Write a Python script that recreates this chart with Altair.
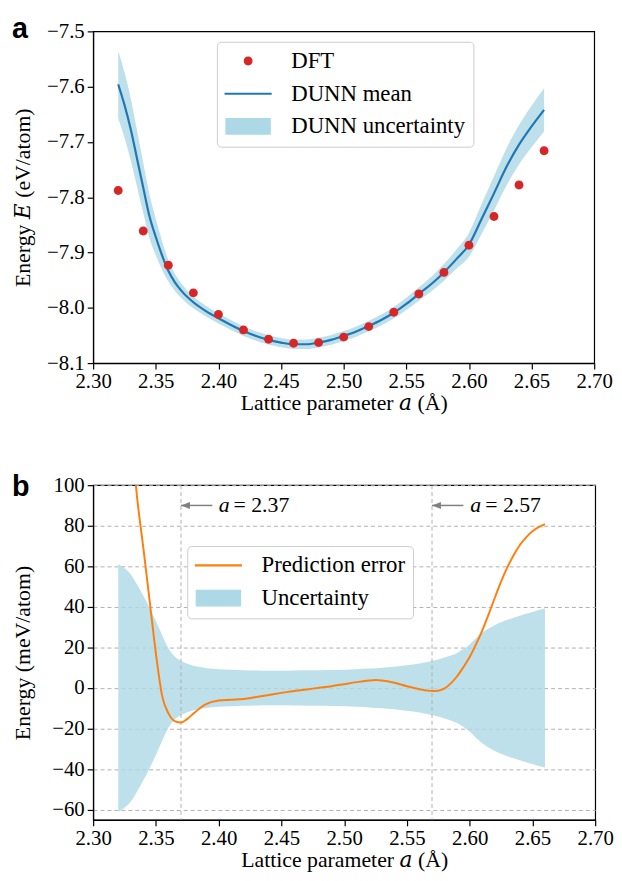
import altair as alt
import pandas as pd

# ---------------- data ----------------
a_dft = [2.32, 2.34, 2.36, 2.38, 2.40, 2.42, 2.44, 2.46, 2.48, 2.50,
         2.52, 2.54, 2.56, 2.58, 2.60, 2.62, 2.64, 2.66]
E_dft = [-7.788, -7.861, -7.923, -7.973, -8.012, -8.040, -8.057, -8.064, -8.063, -8.053,
         -8.034, -8.008, -7.975, -7.936, -7.887, -7.835, -7.778, -7.716]

a_mean = [2.320, 2.325, 2.330, 2.335, 2.340, 2.345, 2.350, 2.355, 2.360, 2.365,
          2.370, 2.380, 2.390, 2.400, 2.410, 2.420, 2.430, 2.440, 2.450, 2.460,
          2.470, 2.480, 2.490, 2.500, 2.510, 2.520, 2.530, 2.540, 2.550, 2.560,
          2.570, 2.580, 2.590, 2.600, 2.610, 2.620, 2.630, 2.640, 2.650, 2.660]
E_mean = [-7.596, -7.633, -7.677, -7.730, -7.783, -7.835, -7.872, -7.905, -7.933, -7.953,
          -7.968, -7.990, -8.006, -8.019, -8.031, -8.042, -8.051, -8.058, -8.063, -8.066,
          -8.066, -8.063, -8.058, -8.051, -8.043, -8.033, -8.022, -8.009, -7.993, -7.975,
          -7.957, -7.936, -7.912, -7.886, -7.840, -7.793, -7.745, -7.705, -7.672, -7.642]
sd_mean = [0.0610, 0.0590, 0.0560, 0.0510, 0.0455, 0.0395, 0.0330, 0.0260, 0.0195, 0.0155,
           0.0133, 0.0110, 0.0098, 0.0093, 0.0090, 0.0088, 0.0086, 0.0085, 0.0085, 0.0086,
           0.0087, 0.0088, 0.0089, 0.0090, 0.0093, 0.0096, 0.0100, 0.0105, 0.0112, 0.0121,
           0.0133, 0.0150, 0.0173, 0.0215, 0.0272, 0.0310, 0.0336, 0.0356, 0.0375, 0.0392]

a_err = [2.320, 2.325, 2.330, 2.335, 2.340, 2.345, 2.350, 2.355, 2.360, 2.365,
         2.370, 2.375, 2.380, 2.385, 2.390, 2.400, 2.410, 2.420, 2.430, 2.440,
         2.450, 2.460, 2.470, 2.480, 2.490, 2.500, 2.510, 2.520, 2.525, 2.530,
         2.540, 2.550, 2.560, 2.570, 2.575, 2.580, 2.585, 2.590, 2.595, 2.600,
         2.605, 2.610, 2.615, 2.620, 2.625, 2.630, 2.635, 2.640, 2.645, 2.650,
         2.655, 2.660]
err = [185, 160, 128, 94, 69, 43, 17, -4, -12.5, -16.3,
       -17.0, -15.2, -12.6, -10.0, -8.0, -6.2, -5.8, -5.4, -4.4, -3.4,
       -2.4, -1.5, -0.7, 0.1, 0.9, 1.9, 2.9, 3.7, 3.9, 3.7,
       2.6, 0.9, -0.6, -1.5, -1.3, -0.2, 2.3, 5.8, 10.3, 15.3,
       21.5, 28.3, 36.2, 44.5, 52.5, 59.5, 65.5, 70.5, 74.3, 77.3,
       79.3, 80.8]
unc = [61, 59, 56, 51, 45.5, 39.5, 33, 26, 19.5, 15.5,
       13.3, 12.0, 11.0, 10.3, 9.8, 9.3, 9.0, 8.8, 8.6, 8.5,
       8.5, 8.6, 8.7, 8.8, 8.9, 9.0, 9.3, 9.6, 9.8, 10.0,
       10.5, 11.2, 12.1, 13.3, 14.0, 15.0, 16.0, 17.3, 19.2, 21.5,
       24.5, 27.2, 29.3, 31.0, 32.4, 33.6, 34.6, 35.6, 36.6, 37.5,
       38.4, 39.2]

x_ticks = [2.30, 2.35, 2.40, 2.45, 2.50, 2.55, 2.60, 2.65, 2.70]
top_yticks = [-8.1, -8.0, -7.9, -7.8, -7.7, -7.6, -7.5]
bot_yticks = [-60, -40, -20, 0, 20, 40, 60, 80, 100]

top_series = ["DFT", "DUNN mean", "DUNN uncertainty"]
bot_series = ["Prediction error", "Uncertainty"]

vline_a = [2.37, 2.57]
arrow_end = [2.395, 2.595]
label_a = [2.400, 2.6005]
label_txt = ["= 2.37", "= 2.57"]
arrow_v = [90, 90]

# ---------------- styles ----------------
SERIF = "Liberation Serif, DejaVu Serif"
RED, BLUE, LBLUE, ORANGE, GRID = "#d62728", "#1f77b4", "#add8e6", "#ff7f0e", "#b0b0b0"
BAND_OPACITY = 0.8

U = 8.5  # legend unit (sqrt(size)/2)
SYM_SIZE = (2 * U) ** 2
circ = "M0.53,0A0.53,0.53,0,1,1,-0.53,0A0.53,0.53,0,1,1,0.53,0Z"
linep = "M-2.8,-0.13H2.8V0.13H-2.8Z"
rectp = "M-2.7,-1H2.7V1H-2.7Z"
arrow_head = "M0,0L3,-1.2L3,1.2Z"

# ---------------- frames ----------------
df_dft = pd.DataFrame({"a": a_dft, "E": E_dft, "series": "DFT"})
df_mean = pd.DataFrame({"a": a_mean, "E": E_mean, "sd": sd_mean})
df_err = pd.DataFrame({"a": a_err, "err": err, "unc": unc, "series": "Prediction error"})
df_vl = pd.DataFrame({"a": vline_a, "a2": arrow_end, "at": label_a, "v": arrow_v, "txt": label_txt})


def x_enc():
    return alt.X("a:Q", scale=alt.Scale(domain=[2.30, 2.70], nice=False, zero=False),
                 axis=alt.Axis(values=x_ticks, format=".2f", title="Lattice parameter 𝑎 (Å)"))


y_top_scale = alt.Scale(domain=[-8.1, -7.5], nice=False, zero=False)
y_bot_scale = alt.Scale(domain=[-65, 100], nice=False, zero=False)


def make_legend(x, y):
    return alt.Legend(title=None, orient="none", legendX=x, legendY=y, padding=8,
                      rowPadding=9, symbolSize=SYM_SIZE, symbolOffset=12, labelOffset=32,
                      labelFont=SERIF, labelFontSize=23, labelColor="black", labelLimit=0,
                      strokeColor="#cccccc", fillColor="white", cornerRadius=4,
                      symbolStrokeWidth=0, symbolOpacity=1)


leg_top = make_legend(125, 10.5)
leg_bot = make_legend(95, 61.5)

# ---------------- top panel ----------------
band = alt.Chart(df_mean).transform_calculate(
    lo="datum.E - datum.sd", hi="datum.E + datum.sd"
).mark_area(color=LBLUE, opacity=BAND_OPACITY, interpolate="monotone").encode(
    x=x_enc(), y=alt.Y("lo:Q", scale=y_top_scale,
                       axis=alt.Axis(values=top_yticks, format=".1f", title="Energy 𝐸 (eV/atom)",
                                     titlePadding=12)),
    y2="hi:Q")
mean_line = alt.Chart(df_mean).mark_line(color=BLUE, strokeWidth=2.2, interpolate="monotone").encode(
    x="a:Q", y="E:Q")
pts = alt.Chart(df_dft).mark_point(filled=True, opacity=1, size=SYM_SIZE, strokeWidth=0).encode(
    x="a:Q", y="E:Q",
    color=alt.Color("series:N", scale=alt.Scale(domain=top_series, range=[RED, BLUE, LBLUE]),
                    legend=leg_top),
    shape=alt.Shape("series:N", scale=alt.Scale(domain=top_series, range=[circ, linep, rectp]),
                    legend=leg_top))

top = alt.layer(band, mean_line, pts).properties(
    width=506, height=335,
    title=alt.TitleParams("a", anchor="start", frame="group", font="Liberation Sans", fontSize=29,
                          fontWeight="bold", color="black", dx=-82, dy=46.6, offset=0,
                          baseline="alphabetic"))

# ---------------- bottom panel ----------------
ubar = alt.Chart(df_err).transform_calculate(
    lo="-datum.unc", hi="datum.unc"
).mark_area(color=LBLUE, opacity=BAND_OPACITY, interpolate="monotone").encode(
    x=x_enc(), y=alt.Y("lo:Q", scale=y_bot_scale,
                       axis=alt.Axis(values=bot_yticks, format="d", title="Energy (meV/atom)",
                                     titlePadding=17, grid=True, gridDash=[4, 3],
                                     gridColor=GRID, gridWidth=1)),
    y2="hi:Q")
vlines = alt.Chart(df_vl).mark_rule(color=GRID, strokeDash=[4, 3], strokeWidth=1).encode(x="a:Q")
err_line = alt.Chart(df_err).mark_line(color=ORANGE, strokeWidth=2, interpolate="monotone",
                                       clip=True).encode(x="a:Q", y="err:Q")
shaft = alt.Chart(df_vl).mark_rule(color="gray", strokeWidth=1.5).encode(x="a:Q", x2="a2:Q", y="v:Q")
head = alt.Chart(df_vl).mark_point(shape=arrow_head, filled=True, opacity=1, size=36,
                                   color="gray", strokeWidth=0).encode(x="a:Q", y="v:Q")
lab_a = alt.Chart(df_vl).mark_text(text="a", font=SERIF, fontStyle="italic", fontSize=22,
                                   align="left", baseline="middle", color="black").encode(
    x="at:Q", y="v:Q")
lab_rest = alt.Chart(df_vl).mark_text(font=SERIF, fontSize=22, align="left", baseline="middle",
                                      dx=15, color="black").encode(x="at:Q", y="v:Q", text="txt:N")
leg_pts = alt.Chart(df_err).transform_filter("false").mark_point(
    filled=True, opacity=1, size=SYM_SIZE, strokeWidth=0).encode(
    x="a:Q", y="err:Q",
    color=alt.Color("series:N", scale=alt.Scale(domain=bot_series, range=[ORANGE, LBLUE]),
                    legend=leg_bot),
    shape=alt.Shape("series:N", scale=alt.Scale(domain=bot_series, range=[linep, rectp]),
                    legend=leg_bot))

bottom = alt.layer(ubar, vlines, err_line, shaft, head, lab_a, lab_rest, leg_pts).properties(
    width=507, height=338,
    title=alt.TitleParams("b", anchor="start", frame="group", font="Liberation Sans", fontSize=29,
                          fontWeight="bold", color="black", dx=-82, dy=50.7, offset=0,
                          baseline="alphabetic"))

chart = alt.vconcat(top, bottom, spacing=123.3, bounds="flush").resolve_scale(
    color="independent", shape="independent").resolve_legend(
    color="independent", shape="independent").properties(
    padding={"left": 3, "top": 2.3, "right": 0, "bottom": 0}
).configure_view(stroke="black", strokeWidth=1.2).configure_axis(
    labelFont=SERIF, labelFontSize=21, labelColor="black", labelPadding=3,
    titleFont=SERIF, titleFontSize=22, titleFontWeight="normal", titleColor="black",
    tickColor="black", tickSize=6, tickWidth=1.2, labelFlush=False,
    domainColor="black", domainWidth=1.2, grid=False
).configure_axisX(titlePadding=1, labelPadding=2)

chart.save("out.html", embed_options={"renderer": "svg", "actions": False})
